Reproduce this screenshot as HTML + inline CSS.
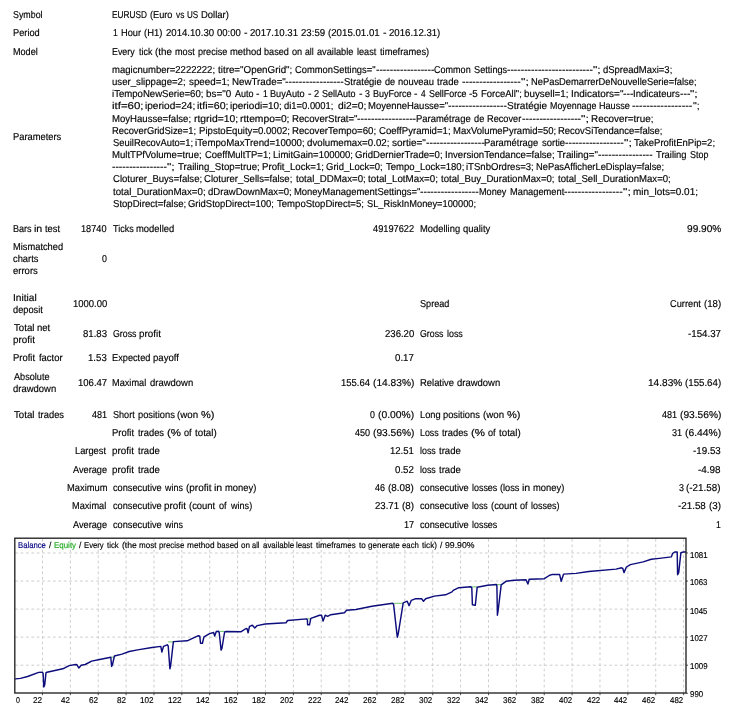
<!DOCTYPE html>
<html lang="en"><head><meta charset="utf-8"><title>Strategy Tester Report</title>
<style>
html,body{margin:0;padding:0;background:#fff;}
body{width:750px;height:711px;position:relative;overflow:hidden;font-family:"Liberation Sans",sans-serif;color:#000;text-rendering:geometricPrecision;-webkit-text-stroke:0.16px currentColor;}
.t{position:absolute;white-space:pre;transform-origin:0 0;line-height:12px;font-size:10.0px;}
.c{font-size:8.5px;}
.chart{position:absolute;left:0;top:0;}
#txt{position:absolute;left:0;top:0;width:750px;height:711px;will-change:transform;}
</style></head><body>
<svg class="chart" width="750" height="711" viewBox="0 0 750 711">
<path d="M42.48 539V692.6M70.35 539V692.6M98.22 539V692.6M126.10 539V692.6M153.97 539V692.6M181.85 539V692.6M209.72 539V692.6M237.60 539V692.6M265.48 539V692.6M293.35 539V692.6M321.23 539V692.6M349.10 539V692.6M376.98 539V692.6M404.85 539V692.6M432.73 539V692.6M460.60 539V692.6M488.48 539V692.6M516.35 539V692.6M544.23 539V692.6M572.10 539V692.6M599.98 539V692.6M627.85 539V692.6M655.73 539V692.6M683.60 539V692.6M15.2 553.00H685.6M15.2 581.05H685.6M15.2 609.10H685.6M15.2 637.15H685.6M15.2 665.20H685.6" fill="none" stroke="#cdcdcd" stroke-width="1" stroke-dasharray="2.7 2.7"/>
<path d="M42.48 693V695.2M70.35 693V695.2M98.22 693V695.2M126.10 693V695.2M153.97 693V695.2M181.85 693V695.2M209.72 693V695.2M237.60 693V695.2M265.48 693V695.2M293.35 693V695.2M321.23 693V695.2M349.10 693V695.2M376.98 693V695.2M404.85 693V695.2M432.73 693V695.2M460.60 693V695.2M488.48 693V695.2M516.35 693V695.2M544.23 693V695.2M572.10 693V695.2M599.98 693V695.2M627.85 693V695.2M655.73 693V695.2M683.60 693V695.2M686 553.00H688M686 581.05H688M686 609.10H688M686 637.15H688M686 665.20H688M686 693.25H688" fill="none" stroke="#555" stroke-width="1"/>
<path d="M168.2 641.9H173.4M393.4 603.3H402.6M471 586.9H477M497 584.6H501M307.4 618.8H310.8M111 657.2H114.4M219.4 631.4H224.6" fill="none" stroke="#58b858" stroke-width="0.9"/>
<path d="M15.6 678.9 L20.4 678.4 L27.6 676.5 L38.7 672.4 L42.3 672.2 L43.1 673.5 L43.8 687.0 L44.7 685.0 L46.0 672.6 L47.0 672.3 L62.8 668.8 L69.2 665.6 L75.6 664.5 L77.0 664.8 L78.8 668.0 L81.2 665.3 L85.2 664.5 L91.6 661.1 L99.6 659.5 L110.8 657.3 L111.6 666.4 L112.4 665.0 L114.4 656.0 L122.0 654.1 L129.2 651.5 L137.6 649.9 L152.0 647.5 L160.8 646.4 L161.9 652.0 L163.5 646.4 L167.2 644.8 L168.2 646.0 L169.9 668.8 L170.6 666.0 L173.4 641.6 L187.2 640.8 L198.4 635.7 L199.8 636.2 L200.5 643.2 L202.4 643.2 L204.0 636.8 L209.6 633.6 L213.6 632.5 L214.7 636.0 L216.3 631.5 L218.4 631.2 L219.2 632.5 L221.1 650.1 L222.0 648.0 L224.6 632.0 L226.4 631.5 L241.2 631.7 L246.0 628.5 L247.2 629.0 L248.1 632.8 L249.5 626.4 L252.4 625.3 L254.8 628.0 L257.2 625.6 L265.2 624.0 L286.0 622.7 L287.6 620.5 L306.8 618.9 L307.4 620.0 L307.6 624.8 L309.5 624.8 L310.8 618.4 L319.6 615.2 L321.5 615.2 L323.1 621.1 L325.2 615.2 L327.6 616.3 L330.8 614.7 L344.4 612.8 L346.6 610.3 L356.0 609.5 L372.0 606.3 L392.8 603.3 L393.6 604.5 L397.3 637.2 L398.2 634.0 L403.2 602.8 L407.2 601.2 L409.1 605.7 L411.2 600.4 L415.2 598.8 L421.6 598.8 L423.5 601.2 L425.6 598.8 L434.4 596.1 L445.6 594.8 L452.0 591.9 L453.2 590.4 L458.8 587.7 L470.8 586.7 L471.8 588.0 L472.4 604.8 L475.3 605.3 L477.2 587.2 L487.6 585.3 L496.4 584.5 L496.9 586.0 L497.4 615.2 L498.2 610.0 L501.2 584.8 L506.0 581.3 L514.0 580.3 L526.0 579.7 L527.9 584.0 L529.2 579.2 L544.4 578.7 L549.2 575.5 L552.4 574.4 L559.6 574.4 L561.2 581.3 L563.6 574.1 L576.0 573.4 L588.8 571.5 L616.0 569.1 L621.6 567.8 L622.8 568.5 L624.0 572.6 L626.4 567.0 L630.4 564.6 L643.2 561.9 L651.2 559.3 L659.3 558.4 L671.3 556.9 L672.7 553.3 L674.7 552.0 L677.2 552.0 L677.6 574.7 L678.7 572.7 L680.9 552.7 L683.3 552.0 L685.7 552.0" fill="none" stroke="#0c0c7c" stroke-width="1.45" stroke-linejoin="round" stroke-linecap="round"/>
<rect x="14.8" y="538.2" width="671.2" height="154.8" fill="none" stroke="#222" stroke-width="1.35"/>
</svg>
<div id="txt">
<div>
<span class="t" style="left:13.30px;top:10.00px;transform:scaleX(0.8867);">Symbol</span>
</div>
<div>
<span class="t" style="left:112.34px;top:10.00px;transform:scaleX(0.8252);">EURUSD</span>
<span class="t" style="left:150.00px;top:10.00px;transform:scaleX(0.9170);">(Euro</span>
<span class="t" style="left:175.90px;top:10.00px;transform:scaleX(0.8379);">vs</span>
<span class="t" style="left:187.23px;top:10.00px;transform:scaleX(0.8056);">US</span>
<span class="t" style="left:201.18px;top:10.00px;transform:scaleX(0.9465);">Dollar)</span>
</div>
<div>
<span class="t" style="left:12.96px;top:28.00px;transform:scaleX(0.9241);">Period</span>
</div>
<div>
<span class="t" style="left:113.35px;top:28.00px;transform:scaleX(0.8636);">1</span>
<span class="t" style="left:120.97px;top:28.00px;transform:scaleX(0.9271);">Hour</span>
<span class="t" style="left:144.14px;top:28.00px;transform:scaleX(0.9426);">(H1)</span>
<span class="t" style="left:165.70px;top:28.00px;transform:scaleX(0.9602);">2014.10.30</span>
<span class="t" style="left:216.94px;top:28.00px;transform:scaleX(0.9528);">00:00</span>
<span class="t" style="left:243.57px;top:28.00px;transform:scaleX(1.0552);">-</span>
<span class="t" style="left:250.21px;top:28.00px;transform:scaleX(0.9601);">2017.10.31</span>
<span class="t" style="left:301.30px;top:28.00px;transform:scaleX(0.9627);">23:59</span>
<span class="t" style="left:328.13px;top:28.00px;transform:scaleX(0.9685);">(2015.01.01</span>
<span class="t" style="left:382.61px;top:28.00px;transform:scaleX(1.0552);">-</span>
<span class="t" style="left:389.25px;top:28.00px;transform:scaleX(0.9612);">2016.12.31)</span>
</div>
<div>
<span class="t" style="left:12.97px;top:47.00px;transform:scaleX(0.9083);">Model</span>
</div>
<div>
<span class="t" style="left:112.29px;top:47.00px;transform:scaleX(0.8877);">Every</span>
<span class="t" style="left:138.67px;top:47.00px;transform:scaleX(0.8893);">tick</span>
<span class="t" style="left:155.19px;top:47.00px;transform:scaleX(0.9802);">(the</span>
<span class="t" style="left:174.90px;top:47.00px;transform:scaleX(0.9144);">most</span>
<span class="t" style="left:197.97px;top:47.00px;transform:scaleX(0.9095);">precise</span>
<span class="t" style="left:230.12px;top:47.00px;transform:scaleX(0.9419);">method</span>
<span class="t" style="left:264.24px;top:47.00px;transform:scaleX(0.9109);">based</span>
<span class="t" style="left:291.96px;top:47.00px;transform:scaleX(0.9183);">on</span>
<span class="t" style="left:305.08px;top:47.00px;transform:scaleX(0.8704);">all</span>
<span class="t" style="left:317.36px;top:47.00px;transform:scaleX(0.9215);">available</span>
<span class="t" style="left:356.73px;top:47.00px;transform:scaleX(0.9115);">least</span>
<span class="t" style="left:379.64px;top:47.00px;transform:scaleX(0.9321);">timeframes)</span>
</div>
<div>
<span class="t" style="left:12.95px;top:132.00px;transform:scaleX(0.9319);">Parameters</span>
</div>
<div>
<span class="t" style="left:112.38px;top:65.00px;transform:scaleX(0.9530);">magicnumber=2222222;</span>
<span class="t" style="left:218.40px;top:65.00px;transform:scaleX(0.9809);">titre="OpenGrid";</span>
<span class="t" style="left:295.32px;top:65.00px;transform:scaleX(0.9355);">CommonSettings="</span>
<span class="t" style="left:375.66px;top:65.00px;transform:scaleX(1.0320);">-----------------</span>
<span class="t" style="left:434.29px;top:65.00px;transform:scaleX(0.9042);">Common</span>
<span class="t" style="left:473.86px;top:65.00px;transform:scaleX(0.9187);">Settings</span>
<span class="t" style="left:506.93px;top:65.00px;transform:scaleX(1.0317);">-------------------------</span>
<span class="t" style="left:592.98px;top:65.00px;transform:scaleX(1.2317);">";</span>
<span class="t" style="left:603.27px;top:65.00px;transform:scaleX(0.9475);">dSpreadMaxi=3;</span>
</div>
<div>
<span class="t" style="left:112.42px;top:77.00px;transform:scaleX(0.9634);">user_slippage=2;</span>
<span class="t" style="left:188.95px;top:77.00px;transform:scaleX(0.9795);">speed=1;</span>
<span class="t" style="left:231.85px;top:77.00px;transform:scaleX(0.9757);">NewTrade="</span>
<span class="t" style="left:285.45px;top:77.00px;transform:scaleX(1.0354);">-----------------</span>
<span class="t" style="left:344.30px;top:77.00px;transform:scaleX(0.9416);">Stratégie</span>
<span class="t" style="left:385.09px;top:77.00px;transform:scaleX(0.9148);">de</span>
<span class="t" style="left:398.15px;top:77.00px;transform:scaleX(0.9395);">nouveau</span>
<span class="t" style="left:437.30px;top:77.00px;transform:scaleX(0.9540);">trade</span>
<span class="t" style="left:461.80px;top:77.00px;transform:scaleX(1.0354);">-----------------</span>
<span class="t" style="left:520.57px;top:77.00px;transform:scaleX(1.2362);">";</span>
<span class="t" style="left:530.53px;top:77.00px;transform:scaleX(0.9354);">NePasDemarrerDeNouvelleSerie=false;</span>
</div>
<div>
<span class="t" style="left:111.88px;top:89.00px;transform:scaleX(0.9592);">iTempoNewSerie=60;</span>
<span class="t" style="left:205.82px;top:89.00px;transform:scaleX(0.9877);">bs="0</span>
<span class="t" style="left:234.51px;top:89.00px;transform:scaleX(0.9001);">Auto</span>
<span class="t" style="left:255.78px;top:89.00px;transform:scaleX(1.0482);">-</span>
<span class="t" style="left:262.62px;top:89.00px;transform:scaleX(0.8576);">1</span>
<span class="t" style="left:270.21px;top:89.00px;transform:scaleX(0.9156);">BuyAuto</span>
<span class="t" style="left:307.57px;top:89.00px;transform:scaleX(1.0482);">-</span>
<span class="t" style="left:314.19px;top:89.00px;transform:scaleX(0.9197);">2</span>
<span class="t" style="left:322.32px;top:89.00px;transform:scaleX(0.8992);">SellAuto</span>
<span class="t" style="left:358.57px;top:89.00px;transform:scaleX(1.0482);">-</span>
<span class="t" style="left:365.34px;top:89.00px;transform:scaleX(0.8814);">3</span>
<span class="t" style="left:373.00px;top:89.00px;transform:scaleX(0.9029);">BuyForce</span>
<span class="t" style="left:414.39px;top:89.00px;transform:scaleX(1.0482);">-</span>
<span class="t" style="left:421.31px;top:89.00px;transform:scaleX(0.8295);">4</span>
<span class="t" style="left:429.15px;top:89.00px;transform:scaleX(0.8884);">SellForce</span>
<span class="t" style="left:469.46px;top:89.00px;transform:scaleX(0.9840);">-5</span>
<span class="t" style="left:480.89px;top:89.00px;transform:scaleX(0.9494);">ForceAll";</span>
<span class="t" style="left:524.23px;top:89.00px;transform:scaleX(0.9823);">buysell=1;</span>
<span class="t" style="left:570.73px;top:89.00px;transform:scaleX(0.9938);">Indicators="</span>
<span class="t" style="left:622.93px;top:89.00px;transform:scaleX(1.0329);">---</span>
<span class="t" style="left:632.84px;top:89.00px;transform:scaleX(0.9575);">Indicateurs</span>
<span class="t" style="left:679.53px;top:89.00px;transform:scaleX(1.0329);">---</span>
<span class="t" style="left:690.02px;top:89.00px;transform:scaleX(1.2263);">";</span>
</div>
<div>
<span class="t" style="left:112.35px;top:101.00px;transform:scaleX(1.1465);">itf=60;</span>
<span class="t" style="left:145.34px;top:101.00px;transform:scaleX(1.0097);">iperiod=24;</span>
<span class="t" style="left:197.01px;top:101.00px;transform:scaleX(1.0598);">itfi=60;</span>
<span class="t" style="left:230.05px;top:101.00px;transform:scaleX(0.9969);">iperiodi=10;</span>
<span class="t" style="left:283.72px;top:101.00px;transform:scaleX(0.9401);">di1=0.0001;</span>
<span class="t" style="left:338.29px;top:101.00px;transform:scaleX(1.0287);">di2=0;</span>
<span class="t" style="left:368.24px;top:101.00px;transform:scaleX(0.9479);">MoyenneHausse="</span>
<span class="t" style="left:448.38px;top:101.00px;transform:scaleX(1.0416);">-----------------</span>
<span class="t" style="left:506.95px;top:101.00px;transform:scaleX(1.0035);">Stratégie</span>
<span class="t" style="left:549.99px;top:101.00px;transform:scaleX(0.8874);">Moyennage</span>
<span class="t" style="left:598.57px;top:101.00px;transform:scaleX(0.9084);">Hausse</span>
<span class="t" style="left:632.37px;top:101.00px;transform:scaleX(1.0649);">-----------------</span>
<span class="t" style="left:692.58px;top:101.00px;transform:scaleX(1.0495);">";</span>
</div>
<div>
<span class="t" style="left:112.23px;top:114.00px;transform:scaleX(0.9579);">MoyHausse=false;</span>
<span class="t" style="left:193.77px;top:114.00px;transform:scaleX(1.0382);">rtgrid=10;</span>
<span class="t" style="left:240.33px;top:114.00px;transform:scaleX(1.0290);">rttempo=0;</span>
<span class="t" style="left:292.11px;top:114.00px;transform:scaleX(0.9677);">RecoverStrat="</span>
<span class="t" style="left:357.47px;top:114.00px;transform:scaleX(1.0436);">-----------------</span>
<span class="t" style="left:416.44px;top:114.00px;transform:scaleX(0.9452);">Paramétrage</span>
<span class="t" style="left:474.21px;top:114.00px;transform:scaleX(0.9227);">de</span>
<span class="t" style="left:487.25px;top:114.00px;transform:scaleX(0.9189);">Recover</span>
<span class="t" style="left:521.53px;top:114.00px;transform:scaleX(1.0436);">-----------------</span>
<span class="t" style="left:580.76px;top:114.00px;transform:scaleX(1.2475);">";</span>
<span class="t" style="left:590.76px;top:114.00px;transform:scaleX(0.9893);">Recover=true;</span>
</div>
<div>
<span class="t" style="left:112.25px;top:126.00px;transform:scaleX(0.9367);">RecoverGridSize=1;</span>
<span class="t" style="left:198.71px;top:126.00px;transform:scaleX(0.9603);">PipstoEquity=0.0002;</span>
<span class="t" style="left:292.09px;top:126.00px;transform:scaleX(0.9676);">RecoverTempo=60;</span>
<span class="t" style="left:378.90px;top:126.00px;transform:scaleX(0.9594);">CoeffPyramid=1;</span>
<span class="t" style="left:452.81px;top:126.00px;transform:scaleX(0.9498);">MaxVolumePyramid=50;</span>
<span class="t" style="left:558.40px;top:126.00px;transform:scaleX(0.9464);">RecovSiTendance=false;</span>
</div>
<div>
<span class="t" style="left:112.58px;top:138.00px;transform:scaleX(0.9389);">SeuilRecovAuto=1;</span>
<span class="t" style="left:194.70px;top:138.00px;transform:scaleX(0.9681);">iTempoMaxTrend=10000;</span>
<span class="t" style="left:307.12px;top:138.00px;transform:scaleX(0.9720);">dvolumemax=0.02;</span>
<span class="t" style="left:392.37px;top:138.00px;transform:scaleX(0.9999);">sortie="</span>
<span class="t" style="left:426.00px;top:138.00px;transform:scaleX(1.0350);">-----------------</span>
<span class="t" style="left:484.49px;top:138.00px;transform:scaleX(0.9373);">Paramétrage</span>
<span class="t" style="left:541.91px;top:138.00px;transform:scaleX(0.9460);">sortie</span>
<span class="t" style="left:564.84px;top:138.00px;transform:scaleX(1.0350);">-----------------</span>
<span class="t" style="left:623.59px;top:138.00px;transform:scaleX(1.2357);">";</span>
<span class="t" style="left:634.10px;top:138.00px;transform:scaleX(0.9497);">TakeProfitEnPip=2;</span>
</div>
<div>
<span class="t" style="left:112.23px;top:150.00px;transform:scaleX(0.9574);">MultTPfVolume=true;</span>
<span class="t" style="left:204.52px;top:150.00px;transform:scaleX(0.9452);">CoeffMultTP=1;</span>
<span class="t" style="left:272.63px;top:150.00px;transform:scaleX(0.9498);">LimitGain=100000;</span>
<span class="t" style="left:355.25px;top:150.00px;transform:scaleX(0.9560);">GridDernierTrade=0;</span>
<span class="t" style="left:444.86px;top:150.00px;transform:scaleX(0.9646);">InversionTendance=false;</span>
<span class="t" style="left:557.42px;top:150.00px;transform:scaleX(0.9803);">Trailing="</span>
<span class="t" style="left:598.20px;top:150.00px;transform:scaleX(1.0260);">----------------</span>
<span class="t" style="left:656.27px;top:150.00px;transform:scaleX(0.9430);">Trailing</span>
<span class="t" style="left:689.70px;top:150.00px;transform:scaleX(0.8927);">Stop</span>
</div>
<div>
<span class="t" style="left:112.29px;top:162.00px;transform:scaleX(1.0299);">----------------</span>
<span class="t" style="left:167.33px;top:162.00px;transform:scaleX(1.2286);">";</span>
<span class="t" style="left:177.78px;top:162.00px;transform:scaleX(0.9680);">Trailing_Stop=true;</span>
<span class="t" style="left:261.80px;top:162.00px;transform:scaleX(0.9655);">Profit_Lock=1;</span>
<span class="t" style="left:326.42px;top:162.00px;transform:scaleX(0.9485);">Grid_Lock=0;</span>
<span class="t" style="left:386.02px;top:162.00px;transform:scaleX(0.9549);">Tempo_Lock=180;</span>
<span class="t" style="left:466.31px;top:162.00px;transform:scaleX(0.9557);">iTSnbOrdres=3;</span>
<span class="t" style="left:536.40px;top:162.00px;transform:scaleX(0.9326);">NePasAfficherLeDisplay=false;</span>
</div>
<div>
<span class="t" style="left:112.52px;top:174.00px;transform:scaleX(0.9574);">Cloturer_Buys=false;</span>
<span class="t" style="left:204.31px;top:174.00px;transform:scaleX(0.9545);">Cloturer_Sells=false;</span>
<span class="t" style="left:295.64px;top:174.00px;transform:scaleX(0.9689);">total_DDMax=0;</span>
<span class="t" style="left:368.35px;top:174.00px;transform:scaleX(0.9793);">total_LotMax=0;</span>
<span class="t" style="left:441.28px;top:174.00px;transform:scaleX(0.9612);">total_Buy_DurationMax=0;</span>
<span class="t" style="left:557.80px;top:174.00px;transform:scaleX(0.9589);">total_Sell_DurationMax=0;</span>
</div>
<div>
<span class="t" style="left:112.85px;top:187.00px;transform:scaleX(0.9715);">total_DurationMax=0;</span>
<span class="t" style="left:208.20px;top:187.00px;transform:scaleX(0.9562);">dDrawDownMax=0;</span>
<span class="t" style="left:294.27px;top:187.00px;transform:scaleX(0.9441);">MoneyManagementSettings="</span>
<span class="t" style="left:420.49px;top:187.00px;transform:scaleX(1.0364);">-----------------</span>
<span class="t" style="left:479.09px;top:187.00px;transform:scaleX(0.9121);">Money</span>
<span class="t" style="left:509.59px;top:187.00px;transform:scaleX(0.9304);">Management</span>
<span class="t" style="left:564.06px;top:187.00px;transform:scaleX(1.0364);">-----------------</span>
<span class="t" style="left:622.89px;top:187.00px;transform:scaleX(1.2377);">";</span>
<span class="t" style="left:632.96px;top:187.00px;transform:scaleX(0.9939);">min_lots=0.01;</span>
</div>
<div>
<span class="t" style="left:112.57px;top:199.00px;transform:scaleX(0.9572);">StopDirect=false;</span>
<span class="t" style="left:188.35px;top:199.00px;transform:scaleX(0.9448);">GridStopDirect=100;</span>
<span class="t" style="left:277.14px;top:199.00px;transform:scaleX(0.9565);">TempoStopDirect=5;</span>
<span class="t" style="left:366.75px;top:199.00px;transform:scaleX(0.9276);">SL_RiskInMoney=100000;</span>
</div>
<div>
<span class="t" style="left:12.97px;top:224.00px;transform:scaleX(0.9074);">Bars</span>
<span class="t" style="left:33.99px;top:224.00px;transform:scaleX(1.0647);">in</span>
<span class="t" style="left:45.35px;top:224.00px;transform:scaleX(0.9358);">test</span>
</div>
<div>
<span class="t" style="left:81.25px;top:224.00px;transform:scaleX(0.9200);">18740</span>
</div>
<div>
<span class="t" style="left:112.82px;top:224.00px;transform:scaleX(0.8992);">Ticks</span>
<span class="t" style="left:136.41px;top:224.00px;transform:scaleX(0.9426);">modelled</span>
</div>
<div>
<span class="t" style="left:373.14px;top:224.00px;transform:scaleX(0.9235);">49197622</span>
</div>
<div>
<span class="t" style="left:419.85px;top:224.00px;transform:scaleX(0.9370);">Modelling</span>
<span class="t" style="left:462.88px;top:224.00px;transform:scaleX(0.9418);">quality</span>
</div>
<div>
<span class="t" style="left:686.66px;top:224.00px;transform:scaleX(1.0138);">99.90%</span>
</div>
<div>
<span class="t" style="left:72.61px;top:299.00px;transform:scaleX(0.9470);">1000.00</span>
</div>
<div>
<span class="t" style="left:420.19px;top:299.00px;transform:scaleX(0.9110);">Spread</span>
</div>
<div>
<span class="t" style="left:669.65px;top:299.00px;transform:scaleX(0.9257);">Current</span>
<span class="t" style="left:703.68px;top:299.00px;transform:scaleX(0.9661);">(18)</span>
</div>
<div>
<span class="t" style="left:82.88px;top:329.00px;transform:scaleX(0.9597);">81.83</span>
</div>
<div>
<span class="t" style="left:112.56px;top:329.00px;transform:scaleX(0.8778);">Gross</span>
<span class="t" style="left:138.94px;top:329.00px;transform:scaleX(0.9835);">profit</span>
</div>
<div>
<span class="t" style="left:384.91px;top:329.00px;transform:scaleX(0.9557);">236.20</span>
</div>
<div>
<span class="t" style="left:420.16px;top:329.00px;transform:scaleX(0.8778);">Gross</span>
<span class="t" style="left:446.70px;top:329.00px;transform:scaleX(0.8886);">loss</span>
</div>
<div>
<span class="t" style="left:688.15px;top:329.00px;transform:scaleX(0.9728);">-154.37</span>
</div>
<div>
<span class="t" style="left:12.94px;top:353.00px;transform:scaleX(0.9438);">Profit</span>
<span class="t" style="left:38.72px;top:353.00px;transform:scaleX(0.9437);">factor</span>
</div>
<div>
<span class="t" style="left:88.11px;top:353.00px;transform:scaleX(0.9652);">1.53</span>
</div>
<div>
<span class="t" style="left:112.26px;top:353.00px;transform:scaleX(0.9217);">Expected</span>
<span class="t" style="left:153.42px;top:353.00px;transform:scaleX(0.9579);">payoff</span>
</div>
<div>
<span class="t" style="left:395.40px;top:353.00px;transform:scaleX(0.9685);">0.17</span>
</div>
<div>
<span class="t" style="left:77.78px;top:378.00px;transform:scaleX(0.9535);">106.47</span>
</div>
<div>
<span class="t" style="left:112.26px;top:378.00px;transform:scaleX(0.9188);">Maximal</span>
<span class="t" style="left:150.04px;top:378.00px;transform:scaleX(0.9468);">drawdown</span>
</div>
<div>
<span class="t" style="left:340.74px;top:378.00px;transform:scaleX(0.9470);">155.64</span>
<span class="t" style="left:372.61px;top:378.00px;transform:scaleX(1.0198);">(14.83%)</span>
</div>
<div>
<span class="t" style="left:419.85px;top:378.00px;transform:scaleX(0.9417);">Relative</span>
<span class="t" style="left:456.97px;top:378.00px;transform:scaleX(0.9468);">drawdown</span>
</div>
<div>
<span class="t" style="left:647.59px;top:378.00px;transform:scaleX(1.0108);">14.83%</span>
<span class="t" style="left:684.71px;top:378.00px;transform:scaleX(0.9706);">(155.64)</span>
</div>
<div>
<span class="t" style="left:13.51px;top:410.00px;transform:scaleX(0.9689);">Total</span>
<span class="t" style="left:37.75px;top:410.00px;transform:scaleX(0.9358);">trades</span>
</div>
<div>
<span class="t" style="left:91.70px;top:410.00px;transform:scaleX(0.9059);">481</span>
</div>
<div>
<span class="t" style="left:112.59px;top:410.00px;transform:scaleX(0.9064);">Short</span>
<span class="t" style="left:137.54px;top:410.00px;transform:scaleX(0.9325);">positions</span>
<span class="t" style="left:177.20px;top:410.00px;transform:scaleX(0.9719);">(won</span>
<span class="t" style="left:201.15px;top:410.00px;transform:scaleX(1.1063);">%)</span>
</div>
<div>
<span class="t" style="left:370.05px;top:410.00px;transform:scaleX(0.8808);">0</span>
<span class="t" style="left:377.78px;top:410.00px;transform:scaleX(1.0346);">(0.00%)</span>
</div>
<div>
<span class="t" style="left:419.86px;top:410.00px;transform:scaleX(0.9282);">Long</span>
<span class="t" style="left:443.25px;top:410.00px;transform:scaleX(0.9325);">positions</span>
<span class="t" style="left:482.91px;top:410.00px;transform:scaleX(0.9719);">(won</span>
<span class="t" style="left:506.86px;top:410.00px;transform:scaleX(1.1063);">%)</span>
</div>
<div>
<span class="t" style="left:661.56px;top:410.00px;transform:scaleX(0.9059);">481</span>
<span class="t" style="left:679.51px;top:410.00px;transform:scaleX(1.0198);">(93.56%)</span>
</div>
<div>
<span class="t" style="left:112.24px;top:428.00px;transform:scaleX(0.9438);">Profit</span>
<span class="t" style="left:137.97px;top:428.00px;transform:scaleX(0.9358);">trades</span>
<span class="t" style="left:166.73px;top:428.00px;transform:scaleX(1.1518);">(%</span>
<span class="t" style="left:183.92px;top:428.00px;transform:scaleX(0.9153);">of</span>
<span class="t" style="left:195.29px;top:428.00px;transform:scaleX(0.9766);">total)</span>
</div>
<div>
<span class="t" style="left:354.66px;top:428.00px;transform:scaleX(0.9065);">450</span>
<span class="t" style="left:372.61px;top:428.00px;transform:scaleX(1.0198);">(93.56%)</span>
</div>
<div>
<span class="t" style="left:419.89px;top:428.00px;transform:scaleX(0.8819);">Loss</span>
<span class="t" style="left:441.94px;top:428.00px;transform:scaleX(0.9358);">trades</span>
<span class="t" style="left:470.70px;top:428.00px;transform:scaleX(1.1518);">(%</span>
<span class="t" style="left:487.88px;top:428.00px;transform:scaleX(0.9153);">of</span>
<span class="t" style="left:499.26px;top:428.00px;transform:scaleX(0.9766);">total)</span>
</div>
<div>
<span class="t" style="left:671.77px;top:428.00px;transform:scaleX(0.9062);">31</span>
<span class="t" style="left:684.68px;top:428.00px;transform:scaleX(1.0346);">(6.44%)</span>
</div>
<div>
<span class="t" style="left:75.49px;top:446.00px;transform:scaleX(0.9304);">Largest</span>
</div>
<div>
<span class="t" style="left:112.41px;top:446.00px;transform:scaleX(0.9835);">profit</span>
<span class="t" style="left:137.97px;top:446.00px;transform:scaleX(0.9550);">trade</span>
</div>
<div>
<span class="t" style="left:390.25px;top:446.00px;transform:scaleX(0.9548);">12.51</span>
</div>
<div>
<span class="t" style="left:420.17px;top:446.00px;transform:scaleX(0.8886);">loss</span>
<span class="t" style="left:439.39px;top:446.00px;transform:scaleX(0.9550);">trade</span>
</div>
<div>
<span class="t" style="left:693.32px;top:446.00px;transform:scaleX(0.9797);">-19.53</span>
</div>
<div>
<span class="t" style="left:72.85px;top:465.00px;transform:scaleX(0.9180);">Average</span>
</div>
<div>
<span class="t" style="left:112.41px;top:465.00px;transform:scaleX(0.9835);">profit</span>
<span class="t" style="left:137.97px;top:465.00px;transform:scaleX(0.9550);">trade</span>
</div>
<div>
<span class="t" style="left:395.40px;top:465.00px;transform:scaleX(0.9685);">0.52</span>
</div>
<div>
<span class="t" style="left:420.17px;top:465.00px;transform:scaleX(0.8886);">loss</span>
<span class="t" style="left:439.39px;top:465.00px;transform:scaleX(0.9550);">trade</span>
</div>
<div>
<span class="t" style="left:698.49px;top:465.00px;transform:scaleX(0.9923);">-4.98</span>
</div>
<div>
<span class="t" style="left:66.62px;top:483.00px;transform:scaleX(0.9339);">Maximum</span>
</div>
<div>
<span class="t" style="left:112.63px;top:483.00px;transform:scaleX(0.9222);">consecutive</span>
<span class="t" style="left:164.86px;top:483.00px;transform:scaleX(0.8957);">wins</span>
<span class="t" style="left:185.64px;top:483.00px;transform:scaleX(0.9944);">(profit</span>
<span class="t" style="left:213.70px;top:483.00px;transform:scaleX(1.0647);">in</span>
<span class="t" style="left:224.60px;top:483.00px;transform:scaleX(0.9386);">money)</span>
</div>
<div>
<span class="t" style="left:375.35px;top:483.00px;transform:scaleX(0.8984);">46</span>
<span class="t" style="left:388.15px;top:483.00px;transform:scaleX(0.9887);">(8.08)</span>
</div>
<div>
<span class="t" style="left:420.23px;top:483.00px;transform:scaleX(0.9222);">consecutive</span>
<span class="t" style="left:471.99px;top:483.00px;transform:scaleX(0.8921);">losses</span>
<span class="t" style="left:500.18px;top:483.00px;transform:scaleX(0.9230);">(loss</span>
<span class="t" style="left:522.02px;top:483.00px;transform:scaleX(1.0647);">in</span>
<span class="t" style="left:532.91px;top:483.00px;transform:scaleX(0.9386);">money)</span>
</div>
<div>
<span class="t" style="left:678.67px;top:483.00px;transform:scaleX(0.8900);">3</span>
<span class="t" style="left:686.43px;top:483.00px;transform:scaleX(0.9836);">(-21.58)</span>
</div>
<div>
<span class="t" style="left:72.22px;top:501.00px;transform:scaleX(0.9188);">Maximal</span>
</div>
<div>
<span class="t" style="left:112.63px;top:501.00px;transform:scaleX(0.9222);">consecutive</span>
<span class="t" style="left:164.23px;top:501.00px;transform:scaleX(0.9835);">profit</span>
<span class="t" style="left:189.27px;top:501.00px;transform:scaleX(0.9439);">(count</span>
<span class="t" style="left:218.97px;top:501.00px;transform:scaleX(0.9153);">of</span>
<span class="t" style="left:230.54px;top:501.00px;transform:scaleX(0.9076);">wins)</span>
</div>
<div>
<span class="t" style="left:375.05px;top:501.00px;transform:scaleX(0.9615);">23.71</span>
<span class="t" style="left:401.94px;top:501.00px;transform:scaleX(0.9843);">(8)</span>
</div>
<div>
<span class="t" style="left:420.23px;top:501.00px;transform:scaleX(0.9222);">consecutive</span>
<span class="t" style="left:471.99px;top:501.00px;transform:scaleX(0.8886);">loss</span>
<span class="t" style="left:490.68px;top:501.00px;transform:scaleX(0.9439);">(count</span>
<span class="t" style="left:520.39px;top:501.00px;transform:scaleX(0.9153);">of</span>
<span class="t" style="left:531.48px;top:501.00px;transform:scaleX(0.9014);">losses)</span>
</div>
<div>
<span class="t" style="left:678.29px;top:501.00px;transform:scaleX(0.9797);">-21.58</span>
<span class="t" style="left:708.84px;top:501.00px;transform:scaleX(0.9843);">(3)</span>
</div>
<div>
<span class="t" style="left:72.85px;top:520.00px;transform:scaleX(0.9180);">Average</span>
</div>
<div>
<span class="t" style="left:112.63px;top:520.00px;transform:scaleX(0.9222);">consecutive</span>
<span class="t" style="left:164.86px;top:520.00px;transform:scaleX(0.8957);">wins</span>
</div>
<div>
<span class="t" style="left:404.07px;top:520.00px;transform:scaleX(0.9125);">17</span>
</div>
<div>
<span class="t" style="left:420.23px;top:520.00px;transform:scaleX(0.9222);">consecutive</span>
<span class="t" style="left:471.99px;top:520.00px;transform:scaleX(0.8921);">losses</span>
</div>
<div>
<span class="t" style="left:716.18px;top:520.00px;transform:scaleX(0.8671);">1</span>
</div>
<div>
<span class="t" style="left:12.96px;top:242.00px;transform:scaleX(0.9299);">Mismatched</span>
</div>
<div>
<span class="t" style="left:13.33px;top:254.00px;transform:scaleX(0.9319);">charts</span>
</div>
<div>
<span class="t" style="left:13.32px;top:266.00px;transform:scaleX(0.9501);">errors</span>
</div>
<div>
<span class="t" style="left:101.92px;top:254.00px;transform:scaleX(0.8808);">0</span>
</div>
<div>
<span class="t" style="left:12.59px;top:293.00px;transform:scaleX(1.0138);">Initial</span>
</div>
<div>
<span class="t" style="left:13.33px;top:305.00px;transform:scaleX(0.9252);">deposit</span>
</div>
<div>
<span class="t" style="left:13.51px;top:323.00px;transform:scaleX(0.9689);">Total</span>
<span class="t" style="left:37.27px;top:323.00px;transform:scaleX(0.9537);">net</span>
</div>
<div>
<span class="t" style="left:13.11px;top:335.00px;transform:scaleX(0.9835);">profit</span>
</div>
<div>
<span class="t" style="left:13.70px;top:372.00px;transform:scaleX(0.9122);">Absolute</span>
</div>
<div>
<span class="t" style="left:13.32px;top:384.00px;transform:scaleX(0.9468);">drawdown</span>
</div>
<div>
<span class="t c" style="left:18.00px;top:539.00px;transform:scaleX(0.9088);color:#000080;">Balance</span>
<span class="t c" style="left:48.89px;top:539.00px;transform:scaleX(0.9753);color:#000;">/</span>
<span class="t c" style="left:53.93px;top:539.00px;transform:scaleX(0.9338);color:#22aa22;">Equity</span>
<span class="t c" style="left:79.30px;top:539.00px;transform:scaleX(0.9753);color:#000;">/</span>
<span class="t c" style="left:84.36px;top:539.00px;transform:scaleX(0.9060);color:#000;">Every</span>
<span class="t c" style="left:107.27px;top:539.00px;transform:scaleX(0.9141);color:#000;">tick</span>
<span class="t c" style="left:121.68px;top:539.00px;transform:scaleX(1.0140);color:#000;">(the</span>
<span class="t c" style="left:138.94px;top:539.00px;transform:scaleX(0.9445);color:#000;">most</span>
<span class="t c" style="left:159.13px;top:539.00px;transform:scaleX(0.9217);color:#000;">precise</span>
<span class="t c" style="left:186.81px;top:539.00px;transform:scaleX(0.9717);color:#000;">method</span>
<span class="t c" style="left:216.70px;top:539.00px;transform:scaleX(0.9216);color:#000;">based</span>
<span class="t c" style="left:240.54px;top:539.00px;transform:scaleX(0.9544);color:#000;">on</span>
<span class="t c" style="left:252.06px;top:539.00px;transform:scaleX(0.8764);color:#000;">all</span>
<span class="t c" style="left:262.58px;top:539.00px;transform:scaleX(0.9275);color:#000;">available</span>
<span class="t c" style="left:296.28px;top:539.00px;transform:scaleX(0.9142);color:#000;">least</span>
<span class="t c" style="left:315.86px;top:539.00px;transform:scaleX(0.9470);color:#000;">timeframes</span>
<span class="t c" style="left:358.59px;top:539.00px;transform:scaleX(0.9555);color:#000;">to</span>
<span class="t c" style="left:368.03px;top:539.00px;transform:scaleX(0.9445);color:#000;">generate</span>
<span class="t c" style="left:402.36px;top:539.00px;transform:scaleX(0.9151);color:#000;">each</span>
<span class="t c" style="left:421.96px;top:539.00px;transform:scaleX(0.9588);color:#000;">tick)</span>
<span class="t c" style="left:440.09px;top:539.00px;transform:scaleX(0.9753);color:#000;">/</span>
<span class="t c" style="left:445.38px;top:539.00px;transform:scaleX(1.0209);color:#000;">99.90%</span>
</div>
<div>
<span class="t c" style="left:15.75px;top:694.00px;transform:scaleX(0.8293);">0</span>
</div>
<div>
<span class="t c" style="left:33.09px;top:694.00px;transform:scaleX(0.9621);">22</span>
</div>
<div>
<span class="t c" style="left:61.21px;top:694.00px;transform:scaleX(0.9350);">42</span>
</div>
<div>
<span class="t c" style="left:88.84px;top:694.00px;transform:scaleX(0.9621);">62</span>
</div>
<div>
<span class="t c" style="left:116.77px;top:694.00px;transform:scaleX(0.9565);">82</span>
</div>
<div>
<span class="t c" style="left:140.10px;top:694.00px;transform:scaleX(0.9578);">102</span>
</div>
<div>
<span class="t c" style="left:167.98px;top:694.00px;transform:scaleX(0.9578);">122</span>
</div>
<div>
<span class="t c" style="left:195.85px;top:694.00px;transform:scaleX(0.9578);">142</span>
</div>
<div>
<span class="t c" style="left:223.73px;top:694.00px;transform:scaleX(0.9578);">162</span>
</div>
<div>
<span class="t c" style="left:251.60px;top:694.00px;transform:scaleX(0.9578);">182</span>
</div>
<div>
<span class="t c" style="left:279.67px;top:694.00px;transform:scaleX(0.9435);">202</span>
</div>
<div>
<span class="t c" style="left:307.55px;top:694.00px;transform:scaleX(0.9435);">222</span>
</div>
<div>
<span class="t c" style="left:335.42px;top:694.00px;transform:scaleX(0.9435);">242</span>
</div>
<div>
<span class="t c" style="left:363.30px;top:694.00px;transform:scaleX(0.9435);">262</span>
</div>
<div>
<span class="t c" style="left:391.17px;top:694.00px;transform:scaleX(0.9435);">282</span>
</div>
<div>
<span class="t c" style="left:419.14px;top:694.00px;transform:scaleX(0.9365);">302</span>
</div>
<div>
<span class="t c" style="left:447.02px;top:694.00px;transform:scaleX(0.9365);">322</span>
</div>
<div>
<span class="t c" style="left:474.89px;top:694.00px;transform:scaleX(0.9365);">342</span>
</div>
<div>
<span class="t c" style="left:502.77px;top:694.00px;transform:scaleX(0.9365);">362</span>
</div>
<div>
<span class="t c" style="left:530.64px;top:694.00px;transform:scaleX(0.9365);">382</span>
</div>
<div>
<span class="t c" style="left:558.66px;top:694.00px;transform:scaleX(0.9262);">402</span>
</div>
<div>
<span class="t c" style="left:586.54px;top:694.00px;transform:scaleX(0.9262);">422</span>
</div>
<div>
<span class="t c" style="left:614.41px;top:694.00px;transform:scaleX(0.9262);">442</span>
</div>
<div>
<span class="t c" style="left:642.29px;top:694.00px;transform:scaleX(0.9262);">462</span>
</div>
<div>
<span class="t c" style="left:670.16px;top:694.00px;transform:scaleX(0.9262);">482</span>
</div>
<div>
<span class="t c" style="left:689.94px;top:549.00px;transform:scaleX(0.9257);">1081</span>
</div>
<div>
<span class="t c" style="left:689.95px;top:576.00px;transform:scaleX(0.9232);">1063</span>
</div>
<div>
<span class="t c" style="left:689.95px;top:605.00px;transform:scaleX(0.9232);">1045</span>
</div>
<div>
<span class="t c" style="left:689.94px;top:632.00px;transform:scaleX(0.9283);">1027</span>
</div>
<div>
<span class="t c" style="left:689.94px;top:660.00px;transform:scaleX(0.9257);">1009</span>
</div>
<div>
<span class="t c" style="left:690.18px;top:688.00px;transform:scaleX(0.9256);">990</span>
</div>
</div>
</body></html>
